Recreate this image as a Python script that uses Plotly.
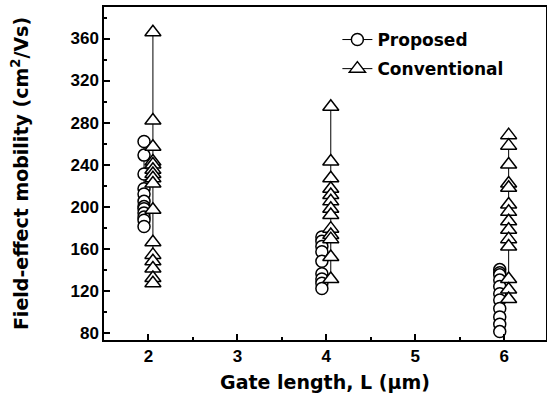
import plotly.graph_objects as go

gate_lengths = [2, 4, 6]

proposed_L2 = [262, 249, 231, 217, 212, 205, 200, 198, 194, 190, 187, 181]
proposed_L4 = [171, 167, 162, 157, 148, 136, 131, 127, 122]
proposed_L6 = [140, 137, 135, 130, 124, 117, 111, 103, 95, 88, 81]

conventional_L2 = [366, 282, 257, 243, 240, 235, 231, 227, 222, 197, 166, 154, 148, 141, 132, 127]
conventional_L4 = [295, 243, 227, 217, 211, 205, 198, 192, 179, 173, 169, 152, 131]
conventional_L6 = [268, 258, 240, 222, 218, 202, 195, 186, 178, 169, 162, 131, 121, 112]

proposed = [proposed_L2, proposed_L4, proposed_L6]
conventional = [conventional_L2, conventional_L4, conventional_L6]

x_ticks = [2, 3, 4, 5, 6]
y_ticks = [80, 120, 160, 200, 240, 280, 320, 360]


def build(groups, offset):
    xs, ys = [], []
    for L, vals in zip(gate_lengths, groups):
        xs += [L + offset] * len(vals) + [None]
        ys += list(vals) + [None]
    return xs, ys


px_, py_ = build(proposed, -0.05)
cx_, cy_ = build(conventional, 0.05)

TICKFONT = "Liberation Sans, Arial, sans-serif"
TITLEFONT = "DejaVu Sans, Verdana, sans-serif"

fig = go.Figure()
fig.add_trace(go.Scatter(
    x=px_, y=py_, mode="lines+markers", name="<b>Proposed</b>", legendgroup="p",
    line=dict(color="black", width=1),
    marker=dict(symbol="circle", size=12, color="white", line=dict(color="black", width=1.5)),
    connectgaps=False,
))
fig.add_trace(go.Scatter(
    x=cx_, y=cy_, mode="lines+markers", name="<b>Conventional</b>", legendgroup="c",
    line=dict(color="black", width=1),
    marker=dict(symbol="triangle-up", size=14, color="white", line=dict(color="black", width=1.5)),
    connectgaps=False,
))

axis_common = dict(
    showline=True, linecolor="black", linewidth=1.5, mirror=True,
    ticks="inside", ticklen=6, tickwidth=1.5, tickcolor="black",
    showgrid=False, zeroline=False,
    tickfont=dict(family=TICKFONT, size=17, color="black"),
)

fig.update_layout(
    width=547, height=403,
    margin=dict(l=104, r=1, t=7, b=63, autoexpand=False),
    paper_bgcolor="white", plot_bgcolor="white",
    font=dict(family=TICKFONT, size=17, color="black"),
    showlegend=True,
    legend=dict(x=0.528, y=0.955, xanchor="left", yanchor="top",
                bgcolor="rgba(0,0,0,0)", borderwidth=0,
                font=dict(family=TITLEFONT, size=17, color="black"),
                tracegroupgap=4),
    xaxis=dict(range=[1.5, 6.47], tickvals=x_ticks, ticktext=[f"<b>{t}</b>" for t in x_ticks],
               minor=dict(ticks="inside", ticklen=3, tickwidth=1.5, tickcolor="black", dtick=0.5, tick0=0),
               title=dict(text="<b>Gate length, L (μm)</b>", standoff=11,
                          font=dict(family=TITLEFONT, size=19)),
               automargin=False,
               **axis_common),
    yaxis=dict(range=[73, 390], tickvals=y_ticks, ticktext=[f"<b>{t}</b>" for t in y_ticks],
               minor=dict(ticks="inside", ticklen=3, tickwidth=1.5, tickcolor="black", dtick=20, tick0=0),
               title=dict(text="<b>Field-effect mobility (cm<sup>2</sup>/Vs)</b>", standoff=37,
                          font=dict(family=TITLEFONT, size=19)),
               automargin=False,
               **axis_common),
)

post = ("document.body.style.margin='0';document.body.style.padding='0';"
        "document.body.style.overflow='hidden';"
        "document.documentElement.style.overflow='hidden';")

fig.write_html("out.html", post_script=post, config={"displayModeBar": False})
